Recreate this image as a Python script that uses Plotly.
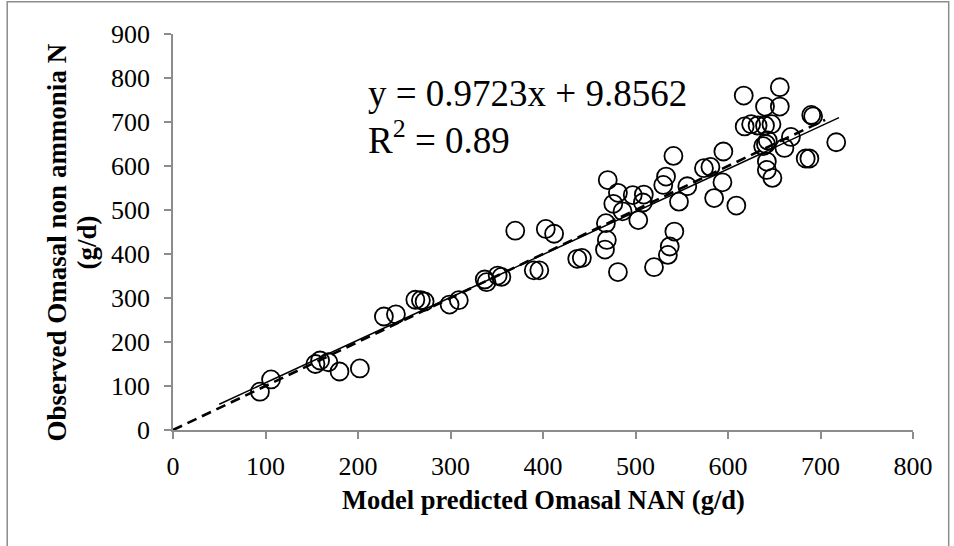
import plotly.graph_objects as go

# ---- data ----
pred_nan = [94, 106, 154, 159, 168, 180, 202, 228, 241, 262, 268, 272, 299, 309,
            337, 339, 351, 355, 370, 390, 396, 403, 412, 437, 442, 467, 469, 468,
            470, 481, 476, 486, 481, 497, 509, 508, 503, 520, 535, 537, 542, 530,
            533, 541, 547, 556, 574, 581, 595, 594, 585, 609, 617, 656, 640, 656,
            618, 625, 632, 640, 647, 668, 643, 641, 638, 661, 690, 692, 717, 684,
            688, 642, 642, 648]
obs_nan = [87, 115, 150, 158, 154, 133, 140, 258, 263, 296, 295, 292, 285, 295,
           342, 336, 351, 348, 453, 363, 363, 457, 446, 389, 391, 410, 432, 470,
           568, 539, 514, 497, 359, 534, 535, 517, 477, 370, 398, 417, 451, 557,
           576, 623, 519, 554, 595, 598, 633, 563, 527, 510, 760, 779, 735, 735,
           690, 695, 692, 692, 695, 666, 658, 650, 645, 641, 716, 713, 654, 617,
           617, 610, 591, 573]

slope = 0.9723
intercept = 9.8562
r_squared = 0.89
trend_x = [50, 720]          # extent of fitted line
unity_x = [0, 705]           # extent of 1:1 line

x_ticks = [0, 100, 200, 300, 400, 500, 600, 700, 800]
y_ticks = [0, 100, 200, 300, 400, 500, 600, 700, 800, 900]

x_title = "Model predicted Omasal NAN (g/d)"
y_title_1 = "Observed Omasal non ammonia N"
y_title_2 = "(g/d)"

FONT = "Liberation Serif, Times New Roman, serif"
AXIS_GRAY = "#8c8c8c"

fig = go.Figure()

fig.add_trace(go.Scatter(
    x=pred_nan, y=obs_nan, mode="markers",
    marker=dict(symbol="circle-open", size=18, color="black",
                line=dict(width=1.8, color="black")),
    showlegend=False, hoverinfo="x+y"))

fig.add_trace(go.Scatter(
    x=unity_x, y=unity_x, mode="lines",
    line=dict(color="black", width=2.6, dash="10px,6px"),
    showlegend=False, hoverinfo="skip"))

fig.add_trace(go.Scatter(
    x=trend_x, y=[slope * v + intercept for v in trend_x], mode="lines",
    line=dict(color="black", width=1.5),
    showlegend=False, hoverinfo="skip"))

# plot area in pixels: x 173.3..913.3, y 34.3..430.3
L, R, T, B = 173.3, 913.3, 34.3, 430.3
W, H = 954, 546

def px_to_paper_x(px):
    return (px - L) / (R - L)

def px_to_paper_y(py):
    return (B - py) / (B - T)

axis_common = dict(
    showgrid=False, zeroline=False, showline=True, linecolor=AXIS_GRAY,
    linewidth=1.5, ticks="outside", ticklen=7, tickwidth=1.5,
    tickcolor=AXIS_GRAY, tickfont=dict(family=FONT, size=26, color="black"),
)

fig.update_layout(
    width=W, height=H,
    margin=dict(l=L, r=W - R, t=T, b=H - B, autoexpand=False),
    paper_bgcolor="white", plot_bgcolor="white",
    xaxis=dict(range=[0, 800], tickvals=x_ticks, ticktext=[str(v) for v in x_ticks],
               ticklabelstandoff=5, **axis_common),
    yaxis=dict(range=[0, 900], tickvals=y_ticks, ticktext=[str(v) for v in y_ticks],
               ticklabelstandoff=9, **axis_common),
    annotations=[
        dict(text=f"y = {slope}x + {intercept}", xref="paper", yref="paper",
             x=px_to_paper_x(366), y=px_to_paper_y(94), xanchor="left", yanchor="middle",
             showarrow=False, font=dict(family=FONT, size=37, color="black")),
        dict(text=f"R<sup>2</sup> = {r_squared}", xref="paper", yref="paper",
             x=px_to_paper_x(366), y=px_to_paper_y(138), xanchor="left", yanchor="middle",
             showarrow=False, font=dict(family=FONT, size=37, color="black")),
        dict(text=f"<b>{x_title}</b>", xref="paper", yref="paper",
             x=px_to_paper_x(544), y=px_to_paper_y(500), xanchor="center", yanchor="middle",
             showarrow=False, font=dict(family=FONT, size=26.5, color="black")),
        dict(text=f"<b>{y_title_1}</b>", xref="paper", yref="paper", textangle=-90,
             x=px_to_paper_x(57), y=px_to_paper_y(243), xanchor="center", yanchor="middle",
             showarrow=False, font=dict(family=FONT, size=27, color="black")),
        dict(text=f"<b>{y_title_2}</b>", xref="paper", yref="paper", textangle=-90,
             x=px_to_paper_x(87), y=px_to_paper_y(243), xanchor="center", yanchor="middle",
             showarrow=False, font=dict(family=FONT, size=27, color="black")),
    ],
    shapes=[
        dict(type="rect", xref="paper", yref="paper",
             x0=px_to_paper_x(7.5), x1=px_to_paper_x(949),
             y0=px_to_paper_y(560), y1=px_to_paper_y(2),
             line=dict(color=AXIS_GRAY, width=1.5), fillcolor="rgba(0,0,0,0)",
             layer="below"),
    ],
)

fig.write_html("out.html")
